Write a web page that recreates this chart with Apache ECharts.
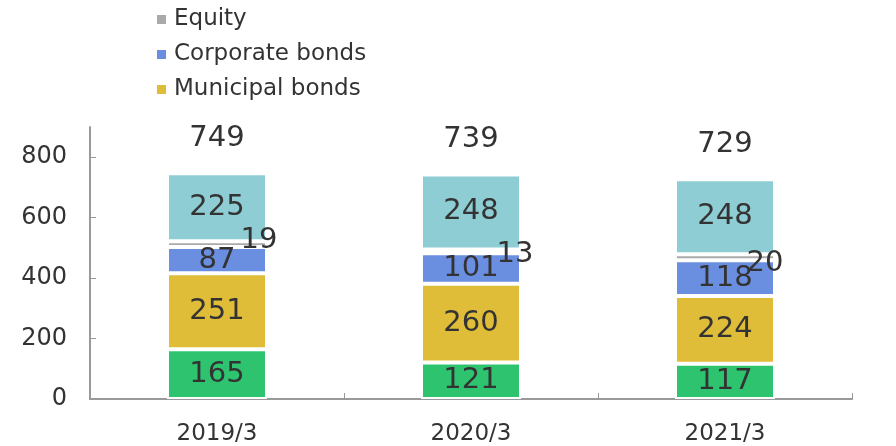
<!DOCTYPE html>
<html>
<head>
<meta charset="utf-8">
<script src="https://cdn.jsdelivr.net/npm/echarts@6/dist/echarts.min.js"></script>
<style>
  html, body { margin: 0; padding: 0; background: #fff; }
  #chart { width: 896px; height: 446px; }
</style>
</head>
<body>
<div id="chart"></div>
<script>
const categories = ['2019/3', '2020/3', '2021/3'];
const government = [165, 121, 117];
const municipal = [251, 260, 224];
const corporate = [87, 101, 118];
const equity = [19, 13, 20];
const other = [225, 248, 248];
const totals = [749, 739, 729];
const yTicks = [0, 200, 400, 600, 800];

const FONT = '"DejaVu Sans", Verdana, sans-serif';
// equity labels sit beside the thin segment, nudged by hand
const equityOffsets = [[42, -4], [44, 3], [40, 6]];

function segment(name, data, color) {
  return {
    name: name,
    type: 'bar',
    stack: 'total',
    data: data,
    barWidth: 100,
    itemStyle: {
      color: color,
      borderColor: '#fff',
      borderWidth: 2
    },
    label: {
      show: true,
      position: 'inside',
      fontFamily: FONT,
      fontSize: 29,
      color: '#333'
    }
  };
}

const equitySeries = segment('Equity', equity, '#aaaaaa');
equitySeries.data = equity.map((v, i) => ({ value: v, label: { offset: equityOffsets[i] } }));

const chart = echarts.init(document.getElementById('chart'));
chart.setOption({
  animation: false,
  textStyle: { fontFamily: FONT },
  grid: { left: 90, right: 44, top: 127, bottom: 46 },
  legend: {
    data: ['Equity', 'Corporate bonds', 'Municipal bonds'],
    orient: 'vertical',
    left: 150,
    top: 3,
    itemWidth: 11,
    itemHeight: 11,
    itemGap: 12,
    icon: 'rect',
    textStyle: { fontFamily: FONT, fontSize: 23, color: '#333', padding: [0, 0, 0, 2] }
  },
  xAxis: {
    type: 'category',
    data: categories,
    axisLine: { lineStyle: { color: '#999', width: 2 } },
    axisTick: { show: true, inside: true, length: 6, lineStyle: { color: '#999', width: 1 } },
    axisLabel: { fontFamily: FONT, fontSize: 23, color: '#333', margin: 24 }
  },
  yAxis: {
    type: 'value',
    min: 0,
    max: 900,
    interval: 100,
    splitLine: { show: false },
    axisLine: { show: true, lineStyle: { color: '#999', width: 2 } },
    axisTick: { show: true, inside: true, length: 6, customValues: yTicks, lineStyle: { color: '#999' } },
    axisLabel: { fontFamily: FONT, fontSize: 24, color: '#333', margin: 23, customValues: yTicks }
  },
  series: [
    segment('Government bonds', government, '#2ec46f'),
    segment('Municipal bonds', municipal, '#dfbd38'),
    segment('Corporate bonds', corporate, '#6a8fe0'),
    equitySeries,
    segment('Other', other, '#8ecdd3'),
    {
      name: 'Total',
      type: 'bar',
      stack: 'total',
      data: totals.map(() => 0),
      barWidth: 100,
      itemStyle: { color: 'transparent' },
      label: {
        show: true,
        position: 'top',
        distance: 20,
        fontFamily: FONT,
        fontSize: 29,
        color: '#333',
        formatter: p => totals[p.dataIndex]
      }
    }
  ]
});
</script>
</body>
</html>
